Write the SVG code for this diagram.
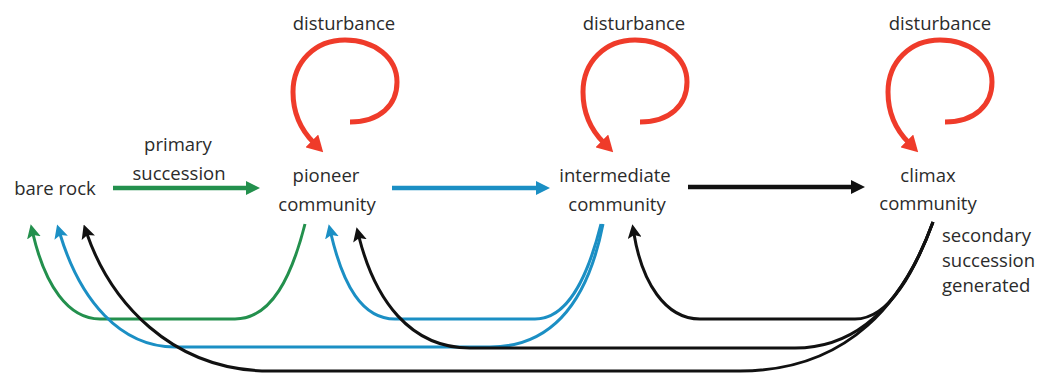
<svg xmlns="http://www.w3.org/2000/svg" width="1051" height="374" viewBox="0 0 1051 374">
<style>
text{font-family:"Open Sans","DejaVu Sans",sans-serif;font-size:18.5px;fill:#2b2b2b}
.c{text-anchor:middle}
.red{fill:none;stroke:#ef3b2a;stroke-width:5;stroke-linecap:butt}
.thick{fill:none;stroke-width:4.5}
.thin{fill:none;stroke-width:3}
.g{stroke:#23904d}
.b{stroke:#1b8fc4}
.k{stroke:#111}
</style>
<defs>
<marker id="ag" markerUnits="userSpaceOnUse" viewBox="0 0 14 14" markerWidth="14" markerHeight="14" refX="3" refY="7" orient="auto"><path d="M0,0 L14,7 L0,14 z" fill="#23904d"/></marker>
<marker id="ab" markerUnits="userSpaceOnUse" viewBox="0 0 14 14" markerWidth="14" markerHeight="14" refX="3" refY="7" orient="auto"><path d="M0,0 L14,7 L0,14 z" fill="#1b8fc4"/></marker>
<marker id="ak" markerUnits="userSpaceOnUse" viewBox="0 0 14 14" markerWidth="14" markerHeight="14" refX="3" refY="7" orient="auto"><path d="M0,0 L14,7 L0,14 z" fill="#111"/></marker>
<marker id="ar" markerUnits="userSpaceOnUse" viewBox="0 0 16 18" markerWidth="16" markerHeight="18" refX="3" refY="9" orient="auto"><path d="M0,0 L16,9 L0,18 z" fill="#ef3b2a"/></marker>
<marker id="sg" markerUnits="userSpaceOnUse" viewBox="0 0 14 14" markerWidth="14" markerHeight="14" refX="4" refY="7" orient="auto"><path d="M0,0 L14,7 L0,14 L3,7 z" fill="#23904d"/></marker>
<marker id="sb" markerUnits="userSpaceOnUse" viewBox="0 0 14 14" markerWidth="14" markerHeight="14" refX="4" refY="7" orient="auto"><path d="M0,0 L14,7 L0,14 L3,7 z" fill="#1b8fc4"/></marker>
<marker id="sk" markerUnits="userSpaceOnUse" viewBox="0 0 14 14" markerWidth="14" markerHeight="14" refX="4" refY="7" orient="auto"><path d="M0,0 L14,7 L0,14 L3,7 z" fill="#111"/></marker>
</defs>

<g id="bare-rock"><text class="c" x="55" y="195">bare rock</text></g>
<g id="pioneer"><text class="c" x="326" y="182">pioneer</text><text class="c" x="327" y="211">community</text></g>
<g id="intermediate"><text class="c" x="615" y="182">intermediate</text><text class="c" x="617" y="211">community</text></g>
<g id="climax"><text class="c" x="928" y="182">climax</text><text class="c" x="928" y="210">community</text></g>

<g id="labels">
<text class="c" x="178" y="151">primary</text>
<text class="c" x="179" y="180">succession</text>
<text class="c" x="344" y="30">disturbance</text>
<text class="c" x="634" y="30">disturbance</text>
<text class="c" x="940" y="30">disturbance</text>
<text x="942" y="242">secondary</text>
<text x="942" y="267">succession</text>
<text x="942" y="292">generated</text>
</g>

<g id="connectors">
<path class="thick g" d="M113 188 H249" marker-end="url(#ag)"/>
<path class="thick b" d="M392 188 H539" marker-end="url(#ab)"/>
<path class="thick k" d="M688 187 H854" marker-end="url(#ak)"/>

<path class="red" d="M350 122 C380 122 397 105 397 82 C397 58 375 40 345 40 C315 40 293 62 293 92 C293 114 301 130 314 143" marker-end="url(#ar)"/>
<path class="red" d="M640 122 C670 122 687 105 687 82 C687 58 665 40 635 40 C605 40 583 62 583 92 C583 114 591 130 604 143" marker-end="url(#ar)"/>
<path class="red" d="M945 122 C975 122 992 105 992 82 C992 58 970 40 940 40 C910 40 888 62 888 92 C888 114 896 130 909 143" marker-end="url(#ar)"/>

<path class="thin g" d="M305 224 C292 275 272 319 235 319 L100 319 C68 319 45 285 33 234" marker-end="url(#sg)"/>
<path class="thin b" d="M603 224 C590 290 560 347 490 347 L175 347 C120 347 80 300 60 234" marker-end="url(#sb)"/>
<path class="thin b" d="M601 224 C587 280 567 319 535 319 L395 319 C362 319 343 285 331 234" marker-end="url(#sb)"/>
<path class="thin k" d="M933 222 C915 270 890 319 855 319 L700 319 C665 319 642 282 634 234" marker-end="url(#sk)"/>
<path class="thin k" d="M933 222 C910 285 870 348 795 348 L470 348 C410 348 375 300 359 237" marker-end="url(#sk)"/>
<path class="thin k" d="M933 222 C905 300 850 371 740 371 L270 371 C170 371 110 300 87 234" marker-end="url(#sk)"/>
</g>
</svg>
